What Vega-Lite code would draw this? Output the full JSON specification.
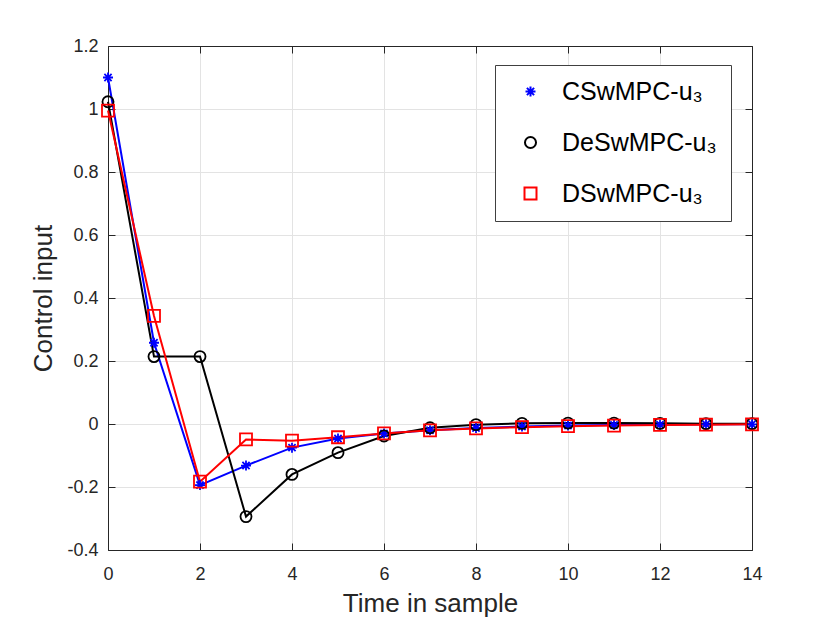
{
  "$schema": "https://vega.github.io/schema/vega-lite/v6.json",
  "width": 644,
  "height": 504,
  "autosize": {"type": "none"},
  "padding": {"left": 108, "top": 46, "right": 78, "bottom": 73},
  "background": "white",
  "config": {
    "font": "Liberation Sans",
    "view": {"stroke": null},
    "axis": {"labelFont": "Liberation Sans", "titleFont": "Liberation Sans"}
  },
  "data": {
    "values": [
      {"t": 0, "u": 1.10, "series": "CSwMPC-u₃"},
      {"t": 1, "u": 0.258, "series": "CSwMPC-u₃"},
      {"t": 2, "u": -0.194, "series": "CSwMPC-u₃"},
      {"t": 3, "u": -0.132, "series": "CSwMPC-u₃"},
      {"t": 4, "u": -0.075, "series": "CSwMPC-u₃"},
      {"t": 5, "u": -0.046, "series": "CSwMPC-u₃"},
      {"t": 6, "u": -0.03, "series": "CSwMPC-u₃"},
      {"t": 7, "u": -0.02, "series": "CSwMPC-u₃"},
      {"t": 8, "u": -0.013, "series": "CSwMPC-u₃"},
      {"t": 9, "u": -0.008, "series": "CSwMPC-u₃"},
      {"t": 10, "u": -0.005, "series": "CSwMPC-u₃"},
      {"t": 11, "u": -0.003, "series": "CSwMPC-u₃"},
      {"t": 12, "u": -0.002, "series": "CSwMPC-u₃"},
      {"t": 13, "u": -0.001, "series": "CSwMPC-u₃"},
      {"t": 14, "u": -0.001, "series": "CSwMPC-u₃"},
      {"t": 0, "u": 1.023, "series": "DeSwMPC-u₃"},
      {"t": 1, "u": 0.214, "series": "DeSwMPC-u₃"},
      {"t": 2, "u": 0.214, "series": "DeSwMPC-u₃"},
      {"t": 3, "u": -0.294, "series": "DeSwMPC-u₃"},
      {"t": 4, "u": -0.16, "series": "DeSwMPC-u₃"},
      {"t": 5, "u": -0.091, "series": "DeSwMPC-u₃"},
      {"t": 6, "u": -0.038, "series": "DeSwMPC-u₃"},
      {"t": 7, "u": -0.012, "series": "DeSwMPC-u₃"},
      {"t": 8, "u": -0.002, "series": "DeSwMPC-u₃"},
      {"t": 9, "u": 0.002, "series": "DeSwMPC-u₃"},
      {"t": 10, "u": 0.003, "series": "DeSwMPC-u₃"},
      {"t": 11, "u": 0.003, "series": "DeSwMPC-u₃"},
      {"t": 12, "u": 0.002, "series": "DeSwMPC-u₃"},
      {"t": 13, "u": 0.001, "series": "DeSwMPC-u₃"},
      {"t": 14, "u": 0.001, "series": "DeSwMPC-u₃"},
      {"t": 0, "u": 0.995, "series": "DSwMPC-u₃"},
      {"t": 1, "u": 0.343, "series": "DSwMPC-u₃"},
      {"t": 2, "u": -0.183, "series": "DSwMPC-u₃"},
      {"t": 3, "u": -0.049, "series": "DSwMPC-u₃"},
      {"t": 4, "u": -0.053, "series": "DSwMPC-u₃"},
      {"t": 5, "u": -0.042, "series": "DSwMPC-u₃"},
      {"t": 6, "u": -0.03, "series": "DSwMPC-u₃"},
      {"t": 7, "u": -0.02, "series": "DSwMPC-u₃"},
      {"t": 8, "u": -0.014, "series": "DSwMPC-u₃"},
      {"t": 9, "u": -0.01, "series": "DSwMPC-u₃"},
      {"t": 10, "u": -0.007, "series": "DSwMPC-u₃"},
      {"t": 11, "u": -0.005, "series": "DSwMPC-u₃"},
      {"t": 12, "u": -0.003, "series": "DSwMPC-u₃"},
      {"t": 13, "u": -0.002, "series": "DSwMPC-u₃"},
      {"t": 14, "u": -0.001, "series": "DSwMPC-u₃"}
    ]
  },
  "layer": [
    {
      "mark": {"type": "line", "strokeWidth": 2},
      "encoding": {
        "x": {
          "field": "t", "type": "quantitative",
          "scale": {"domain": [0, 14], "nice": false, "zero": false},
          "axis": {
            "orient": "bottom",
            "values": [0, 2, 4, 6, 8, 10, 12, 14],
            "title": "Time in sample",
            "titleFontSize": 26, "titleFontWeight": "normal", "titleColor": "#262626",
            "titlePadding": 7,
            "labelFontSize": 18, "labelColor": "#262626", "labelPadding": 22, "labelFlush": false,
            "tickSize": -7, "tickColor": "#262626", "tickWidth": 1,
            "domainColor": "#262626", "domainWidth": 1,
            "grid": true, "gridColor": "#e3e3e3", "gridWidth": 1
          }
        },
        "y": {
          "field": "u", "type": "quantitative",
          "scale": {"domain": [-0.4, 1.2], "nice": false, "zero": false},
          "axis": {
            "orient": "left",
            "values": [-0.4, -0.2, 0, 0.2, 0.4, 0.6, 0.8, 1, 1.2],
            "format": "~g",
            "labelExpr": "replace(datum.label, '−', '-')",
            "title": "Control input",
            "titleFontSize": 26, "titleFontWeight": "normal", "titleColor": "#262626",
            "titlePadding": 10,
            "labelFontSize": 18, "labelColor": "#262626", "labelPadding": 17, "labelFlush": false,
            "tickSize": -7, "tickColor": "#262626", "tickWidth": 1,
            "domainColor": "#262626", "domainWidth": 1,
            "grid": true, "gridColor": "#e3e3e3", "gridWidth": 1
          }
        },
        "color": {
          "field": "series", "type": "nominal",
          "scale": {
            "domain": ["CSwMPC-u₃", "DeSwMPC-u₃", "DSwMPC-u₃"],
            "range": ["#0000ff", "#000000", "#ff0000"]
          },
          "legend": {
            "orient": "none",
            "legendX": 387,
            "legendY": 19,
            "title": null,
            "fillColor": "white",
            "strokeColor": "#404040",
            "padding": 14,
            "symbolStrokeWidth": 2,
            "symbolOffset": 9,
            "labelOffset": 19,
            "labelFontSize": 25,
            "labelColor": "#000000",
            "labelFont": "Liberation Sans",
            "rowPadding": 25,
            "labelLimit": 400
          }
        }
      }
    },
    {
      "mark": {"type": "point", "filled": false, "strokeWidth": 1.8, "opacity": 1},
      "encoding": {
        "x": {
          "field": "t", "type": "quantitative",
          "axis": {
            "orient": "top", "labels": false, "title": null, "grid": false,
            "values": [0, 2, 4, 6, 8, 10, 12, 14],
            "tickSize": -7, "tickColor": "#262626", "tickWidth": 1,
            "domainColor": "#262626", "domainWidth": 1
          }
        },
        "y": {
          "field": "u", "type": "quantitative",
          "axis": {
            "orient": "right", "labels": false, "title": null, "grid": false,
            "values": [-0.4, -0.2, 0, 0.2, 0.4, 0.6, 0.8, 1, 1.2],
            "tickSize": -7, "tickColor": "#262626", "tickWidth": 1,
            "domainColor": "#262626", "domainWidth": 1
          }
        },
        "color": {"field": "series", "type": "nominal"},
        "shape": {
          "field": "series", "type": "nominal",
          "scale": {
            "domain": ["CSwMPC-u₃", "DeSwMPC-u₃", "DSwMPC-u₃"],
            "range": ["M-1,0H1M0,-1V1M-0.72,-0.72L0.72,0.72M-0.72,0.72L0.72,-0.72", "circle", "square"]
          },
          "legend": null
        },
        "size": {
          "field": "series", "type": "nominal",
          "scale": {
            "domain": ["CSwMPC-u₃", "DeSwMPC-u₃", "DSwMPC-u₃"],
            "range": [100, 144, 81]
          },
          "legend": null
        }
      }
    }
  ],
  "resolve": {"axis": {"x": "independent", "y": "independent"}}
}
